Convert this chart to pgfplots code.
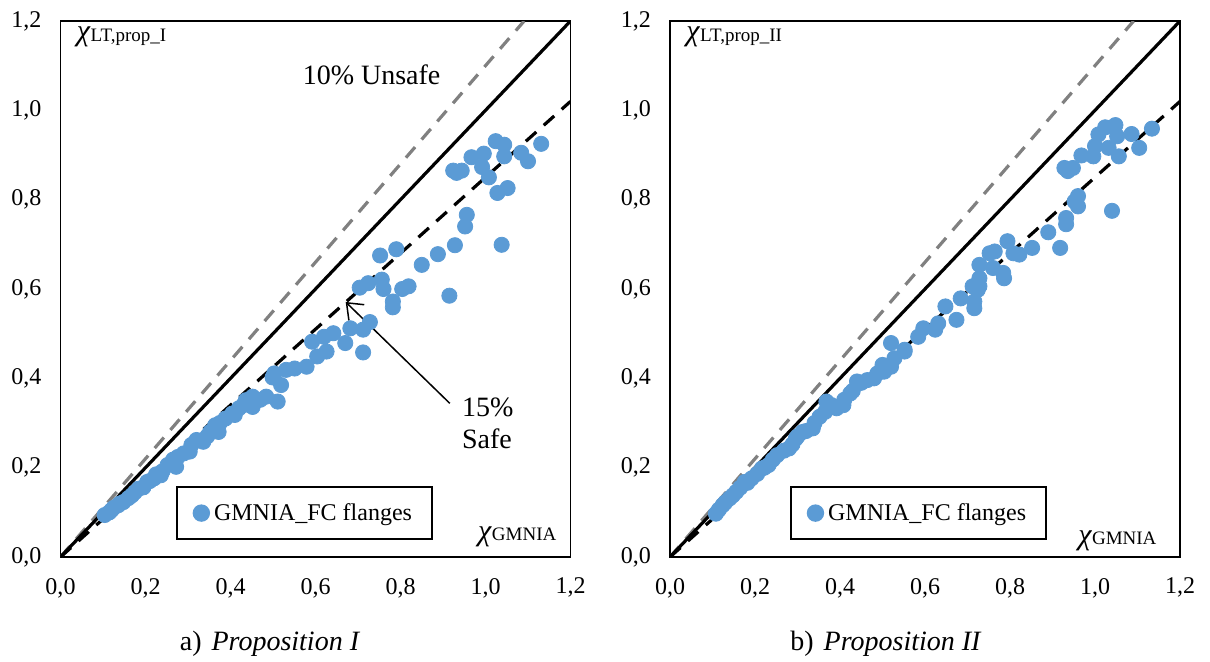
\documentclass[border=0pt]{standalone}
\usepackage{pgfplots}
\usepackage{pgfplotstable}
\pgfplotsset{compat=1.18}
\usetikzlibrary{arrows.meta}
\usepackage{fontspec}
\setmainfont{Liberation Serif}
\definecolor{ptblue}{HTML}{5B9BD5}
\definecolor{lgray}{HTML}{808080}

\newcommand{\chilab}[1]{{\fontsize{15}{15}\selectfont\textit{χ}}\raisebox{-0.4pt}{\fontsize{9.5}{10}\selectfont #1}}

\pgfplotstableread{
x y
1.024 0.931
1.044 0.923
1.131 0.925
1.084 0.905
1.100 0.886
1.044 0.897
0.996 0.903
0.967 0.895
0.992 0.873
1.008 0.850
0.924 0.865
0.944 0.865
0.932 0.860
1.052 0.826
1.028 0.815
0.956 0.766
0.952 0.740
1.038 0.699
0.928 0.698
0.888 0.678
0.850 0.654
0.790 0.689
0.752 0.675
0.915 0.585
0.819 0.606
0.804 0.600
0.760 0.600
0.756 0.621
0.724 0.613
0.704 0.603
0.782 0.572
0.782 0.559
0.728 0.526
0.712 0.509
0.682 0.512
0.670 0.479
0.642 0.501
0.620 0.493
0.592 0.482
0.712 0.458
0.626 0.460
0.604 0.449
0.579 0.426
0.551 0.422
0.531 0.419
0.503 0.411
0.499 0.402
0.519 0.385
0.511 0.348
0.484 0.359
0.470 0.352
0.452 0.359
0.436 0.351
0.452 0.336
0.430 0.340
0.420 0.333
0.404 0.321
0.410 0.318
0.388 0.310
0.375 0.300
0.364 0.295
0.372 0.280
0.352 0.280
0.345 0.270
0.336 0.258
0.320 0.262
0.308 0.251
0.304 0.236
0.290 0.232
0.276 0.224
0.265 0.218
0.272 0.202
0.252 0.206
0.240 0.192
0.236 0.183
0.225 0.185
0.220 0.176
0.210 0.170
0.204 0.168
0.195 0.156
0.184 0.153
0.175 0.145
0.168 0.138
0.160 0.132
0.148 0.123
0.140 0.120
0.136 0.116
0.125 0.110
0.120 0.105
0.115 0.100
0.104 0.094
}\dataI

\pgfplotstableread{
x y
1.134 0.959
1.048 0.967
1.024 0.962
1.008 0.946
1.052 0.942
1.086 0.947
1.104 0.916
1.000 0.920
1.032 0.916
1.056 0.897
0.996 0.897
0.968 0.899
0.928 0.871
0.948 0.871
0.936 0.864
0.960 0.808
0.952 0.796
0.960 0.785
1.040 0.775
0.932 0.759
0.932 0.745
0.890 0.727
0.918 0.692
0.852 0.692
0.822 0.677
0.808 0.680
0.794 0.707
0.764 0.684
0.752 0.680
0.728 0.654
0.760 0.647
0.784 0.636
0.786 0.624
0.728 0.624
0.728 0.606
0.712 0.606
0.724 0.598
0.684 0.579
0.716 0.572
0.716 0.557
0.648 0.561
0.674 0.531
0.631 0.523
0.624 0.509
0.596 0.512
0.584 0.493
0.552 0.464
0.520 0.479
0.552 0.460
0.528 0.445
0.520 0.426
0.504 0.415
0.500 0.430
0.488 0.411
0.480 0.400
0.464 0.396
0.450 0.390
0.440 0.393
0.430 0.372
0.424 0.366
0.410 0.352
0.408 0.340
0.392 0.333
0.380 0.340
0.368 0.348
0.365 0.325
0.352 0.314
0.340 0.300
0.336 0.288
0.320 0.282
0.312 0.280
0.300 0.270
0.296 0.265
0.288 0.252
0.280 0.243
0.268 0.238
0.252 0.228
0.242 0.218
0.232 0.206
0.222 0.200
0.216 0.198
0.205 0.186
0.192 0.176
0.182 0.166
0.176 0.168
0.165 0.155
0.156 0.146
0.148 0.138
0.140 0.131
0.130 0.122
0.124 0.116
0.115 0.106
0.108 0.097
}\dataII

\pgfplotsset{
  myaxis/.style={
    scale only axis, width=255pt, height=268pt,
    anchor=south west,
    xmin=0, xmax=1.2, ymin=0, ymax=1.2,
    xtick={0,0.2,0.4,0.6,0.8,1.0,1.2},
    ytick={0,0.2,0.4,0.6,0.8,1.0,1.2},
    major tick length=0pt,
    axis line style={line width=0.9pt},
    tick label style={font=\fontsize{12}{14}\selectfont,
      /pgf/number format/fixed, /pgf/number format/fixed zerofill,
      /pgf/number format/precision=1, /pgf/number format/use comma,
      /pgf/number format/assume math mode=true},
    xticklabel style={yshift=-7pt},
    yticklabel style={xshift=-6pt},
    legend style={anchor=north west, draw=black, line width=0.9pt, fill=white,
      font=\fontsize{12}{14}\selectfont, inner xsep=8pt, inner ysep=6pt},
    legend image code/.code={\fill[ptblue] (0pt,0pt) circle (3.9pt);},
  },
  refl/.style={forget plot, line width=1.6pt},
  dsh/.style={dash pattern=on 7pt off 5pt},
  pts/.style={only marks, mark=*, mark size=3.8pt, color=ptblue, mark options={draw=ptblue, fill=ptblue}},
}

\begin{document}
\begin{tikzpicture}
\useasboundingbox (0,0) rectangle (605pt,330.5pt);
\begin{axis}[myaxis, at={(30.25pt,52pt)}, legend style={at={(0.226,0.132)}}]
\addplot[refl, lgray, dsh] coordinates {(0,0) (1.0909,1.2)};
\addplot[refl, black] coordinates {(0,0) (1.2,1.2)};
\addplot[refl, black, dsh] coordinates {(0,0) (1.2,1.02)};
\addplot[pts] table[x=x,y=y] {\dataI};
\addlegendentry{GMNIA\_FC flanges}
\node[anchor=base west] at (axis cs:0.022,1.157) {\chilab{LT,prop\_I}};
\node[anchor=base west] at (axis cs:0.966,0.038) {\chilab{GMNIA}};
\node[anchor=base, font=\fontsize{14}{16}\selectfont] at (axis cs:0.732,1.058) {10\% Unsafe};
\node[anchor=base west, font=\fontsize{14}{16}\selectfont, inner sep=0pt] at (axis cs:0.944,0.314) {15\%};
\node[anchor=base west, font=\fontsize{14}{16}\selectfont, inner sep=0pt] at (axis cs:0.944,0.244) {Safe};
\draw[line width=0.75pt, -{Straight Barb[length=7pt,width=11pt]}] (axis cs:0.916,0.344) -- (axis cs:0.671,0.571);
\end{axis}
\begin{axis}[myaxis, at={(335pt,52pt)}, legend style={at={(0.235,0.132)}}]
\addplot[refl, lgray, dsh] coordinates {(0,0) (1.0909,1.2)};
\addplot[refl, black] coordinates {(0,0) (1.2,1.2)};
\addplot[refl, black, dsh] coordinates {(0,0) (1.2,1.02)};
\addplot[pts] table[x=x,y=y] {\dataII};
\addlegendentry{GMNIA\_FC flanges}
\node[anchor=base west] at (axis cs:0.022,1.157) {\chilab{LT,prop\_II}};
\node[anchor=base west] at (axis cs:0.944,0.029) {\chilab{GMNIA}};
\end{axis}
\node[anchor=base, font=\fontsize{14}{16}\selectfont] at (135pt,5.5pt) {a)\hspace{5pt}\textit{Proposition I}};
\node[anchor=base, font=\fontsize{14}{16}\selectfont] at (443pt,5.5pt) {b)\hspace{5pt}\textit{Proposition II}};
\end{tikzpicture}
\end{document}
